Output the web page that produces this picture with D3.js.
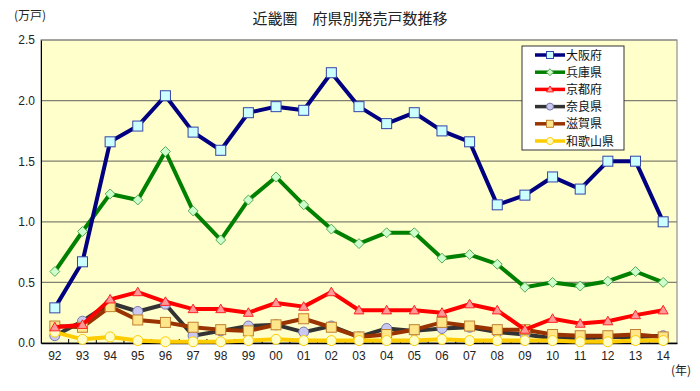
<!DOCTYPE html>
<html><head><meta charset="utf-8">
<script src="https://cdn.jsdelivr.net/npm/d3@7"></script>
<style>body{margin:0;background:#fff}svg{display:block;font-family:"Noto Sans CJK JP","DejaVu Sans",sans-serif}</style>
</head><body><svg id="c" width="700" height="391"></svg>
<script>
const years = ["92","93","94","95","96","97","98","99","00","01","02","03","04","05","06","07","08","09","10","11","12","13","14"];
const osaka    = [0.29,0.67,1.66,1.79,2.04,1.74,1.59,1.90,1.95,1.92,2.23,1.95,1.81,1.90,1.75,1.66,1.14,1.22,1.37,1.27,1.50,1.50,1.00];
const hyogo    = [0.59,0.92,1.23,1.18,1.58,1.09,0.85,1.18,1.37,1.14,0.94,0.82,0.91,0.91,0.70,0.73,0.65,0.46,0.50,0.47,0.51,0.59,0.50];
const kyoto    = [0.13,0.15,0.36,0.42,0.34,0.28,0.28,0.25,0.33,0.30,0.42,0.27,0.27,0.27,0.25,0.32,0.27,0.11,0.20,0.16,0.18,0.23,0.27];
const nara     = [0.06,0.18,0.33,0.26,0.32,0.06,0.10,0.14,0.15,0.09,0.14,0.05,0.12,0.10,0.12,0.13,0.09,0.07,0.04,0.04,0.05,0.05,0.06];
const shiga    = [0.14,0.13,0.30,0.19,0.17,0.13,0.11,0.10,0.15,0.20,0.13,0.05,0.07,0.11,0.17,0.14,0.11,0.11,0.07,0.06,0.06,0.07,0.05];
const wakayama = [0.09,0.03,0.05,0.02,0.01,0.01,0.01,0.02,0.03,0.02,0.02,0.02,0.02,0.02,0.03,0.02,0.02,0.02,0.02,0.01,0.01,0.02,0.02];
const yTicks = [0,0.5,1.0,1.5,2.0,2.5];
const names = ["大阪府","兵庫県","京都府","奈良県","滋賀県","和歌山県"];

const series = [
 {name:names[0], v:osaka, line:"#000080", fill:"#CCFFFF", stroke:"#3344AA", shape:"square", size:10},
 {name:names[1], v:hyogo, line:"#008000", fill:"#CCFFCC", stroke:"#55AA55", shape:"diamond", size:9},
 {name:names[2], v:kyoto, line:"#FF0000", fill:"#FF9999", stroke:"#FF2222", shape:"triangle", size:9},
 {name:names[3], v:nara, line:"#333333", fill:"#C8C8F0", stroke:"#7777AA", shape:"circle", size:10},
 {name:names[4], v:shiga, line:"#993300", fill:"#FFE68A", stroke:"#C08030", shape:"square", size:10},
 {name:names[5], v:wakayama, line:"#FFCC00", fill:"#FFFFCC", stroke:"#FFCC00", shape:"circle", size:10}
];
const draw = [3,4,5,2,1,0];
const svg = d3.select("#c");
const L=41,R=677,T=40,B=343;
const x = d3.scaleBand().domain(years).range([L,R]);
const y = d3.scaleLinear().domain([0,2.5]).range([B,T]);

svg.append("rect").attr("x",L).attr("y",T).attr("width",R-L).attr("height",B-T).attr("fill","#FFFFCC");
svg.append("g").selectAll("line").data(yTicks.filter(d=>d>0)).join("line")
 .attr("x1",L).attr("x2",R).attr("y1",d=>y(d)).attr("y2",d=>y(d)).attr("stroke","#808070").attr("stroke-width",1.2);
svg.append("rect").attr("x",L).attr("y",T).attr("width",R-L).attr("height",B-T).attr("fill","none").attr("stroke","#909090").attr("stroke-width",1.2);

const yAx = svg.append("g").attr("transform",`translate(${L},0)`).call(d3.axisLeft(y).tickValues(yTicks).tickFormat(d3.format(".1f")).tickSize(0).tickPadding(6));
yAx.select(".domain").attr("stroke","#000");
yAx.selectAll("text").attr("font-size",12).attr("fill","#222").attr("font-family","Arial, Liberation Sans, sans-serif");
const xAx = svg.append("g").attr("transform",`translate(0,${B})`).call(d3.axisBottom(x).tickSize(0).tickPadding(8));
xAx.select(".domain").attr("stroke","#000").attr("stroke-width",1.5);
xAx.selectAll("text").attr("font-size",12).attr("fill","#222").attr("font-family","Arial, Liberation Sans, sans-serif");
svg.append("g").selectAll("line").data(years.slice(1)).join("line")
 .attr("x1",d=>x(d)).attr("x2",d=>x(d)).attr("y1",B).attr("y2",B-4).attr("stroke","#000");

function marker(g, s, cx, cy, scale){
  const r = s.size*scale/2;
  let el;
  if(s.shape==="square") el = g.append("rect").attr("x",cx-r).attr("y",cy-r).attr("width",2*r).attr("height",2*r);
  else if(s.shape==="circle") el = g.append("circle").attr("cx",cx).attr("cy",cy).attr("r",r);
  else if(s.shape==="diamond") el = g.append("path").attr("d",`M${cx},${cy-r*1.1}L${cx+r*1.1},${cy}L${cx},${cy+r*1.1}L${cx-r*1.1},${cy}Z`);
  else el = g.append("path").attr("d",`M${cx},${cy-r*1.1}L${cx+r*1.1},${cy+r*0.8}L${cx-r*1.1},${cy+r*0.8}Z`);
  el.attr("fill",s.fill).attr("stroke",s.stroke).attr("stroke-width",1);
}
const cx = d=>x(d)+x.bandwidth()/2;
const line = d3.line().x((d,i)=>cx(years[i])).y(d=>y(d));
draw.forEach(k=>{
  const s=series[k];
  const g=svg.append("g");
  g.append("path").attr("d",line(s.v)).attr("fill","none").attr("stroke",s.line).attr("stroke-width",4).attr("stroke-linejoin","round");
  s.v.forEach((v,i)=>marker(g,s,cx(years[i]),y(v),1));
});

const lg = svg.append("g");
lg.append("rect").attr("x",522).attr("y",46).attr("width",102).attr("height",104).attr("fill","#fff").attr("stroke","#333").attr("stroke-width",1);
series.forEach((s,i)=>{
  const yy = 55 + i*17.2;
  lg.append("line").attr("x1",535).attr("x2",565).attr("y1",yy).attr("y2",yy).attr("stroke",s.line).attr("stroke-width",3.5);
  marker(lg,s,550,yy,0.7);
  lg.append("text").attr("x",566).attr("y",yy+4.5).attr("font-size",12).attr("fill","#111").text(s.name);
});

svg.append("text").attr("x",350).attr("y",24).attr("text-anchor","middle").attr("font-size",15).attr("fill","#222").text("近畿圏　府県別発売戸数推移");
svg.append("text").attr("x",14).attr("y",20).attr("font-size",12).attr("fill","#222").text("(万戸)");
svg.append("text").attr("x",671).attr("y",375).attr("font-size",12).attr("fill","#222").text("(年)");
</script></body></html>
